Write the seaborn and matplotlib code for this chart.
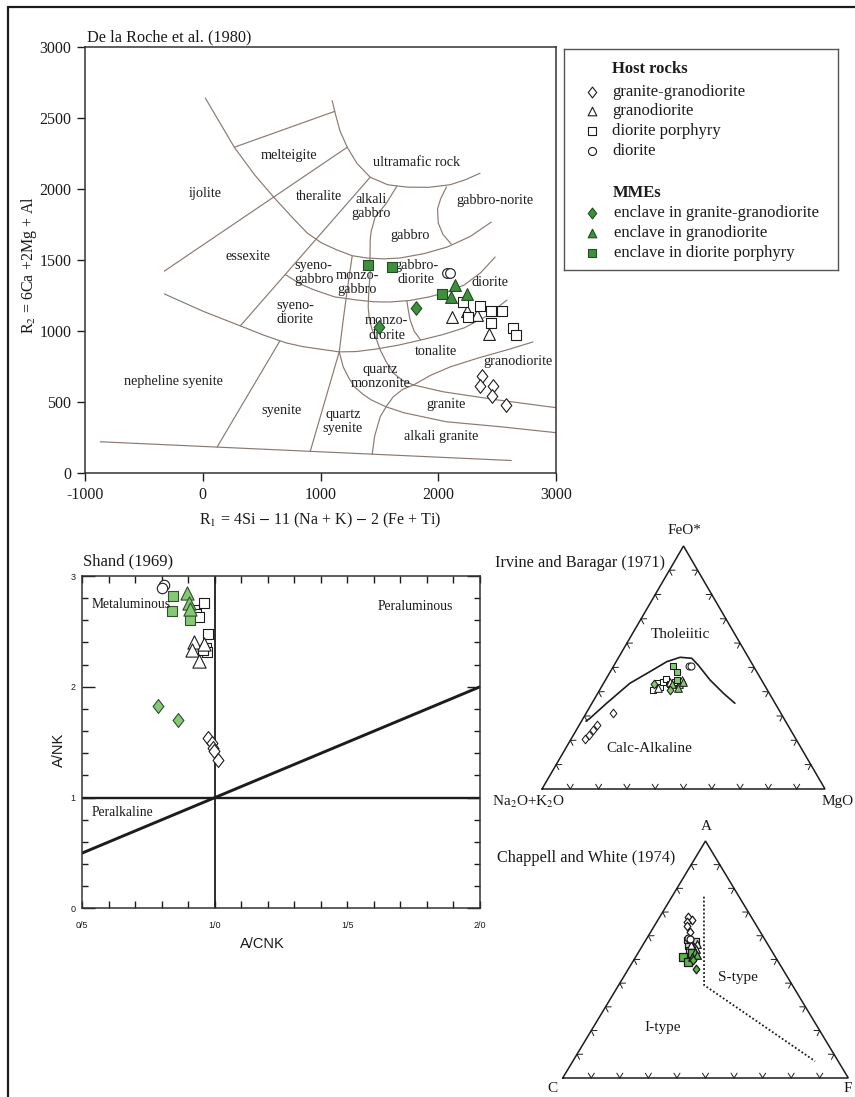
import numpy as np
import matplotlib
matplotlib.use("Agg")
import matplotlib.pyplot as plt
import seaborn as sns
from matplotlib.path import Path
from matplotlib.lines import Line2D
from matplotlib.ticker import FixedLocator, MultipleLocator

sns.set_theme(style="white")
plt.rcParams["font.family"] = ["Liberation Serif", "DejaVu Serif"]
plt.rcParams["mathtext.fontset"] = "stix"
plt.rcParams["axes.unicode_minus"] = False
SANS = ["Liberation Sans", "DejaVu Sans"]

# ---------------- R1-R2 diagram (De la Roche et al., 1980) ----------------
gg_r1 = [2370, 2355, 2463, 2455, 2576]
gg_r2 = [680, 610, 610, 540, 480]
gd_r1 = [2115, 2245, 2327, 2430]
gd_r2 = [1100, 1140, 1110, 982]
dp_r1 = [2212, 2356, 2450, 2540, 2452, 2638, 2664, 2254]
dp_r2 = [1204, 1176, 1144, 1144, 1055, 1020, 970, 1100]
di_r1 = [2072, 2098]
di_r2 = [1410, 1410]
mgg_r1 = [1815, 1500]
mgg_r2 = [1160, 1025]
mgd_r1 = [2145, 2107, 2248]
mgd_r2 = [1325, 1242, 1264]
mdp_r1 = [1405, 1603, 2030]
mdp_r2 = [1462, 1451, 1260]

# field boundaries of the R1-R2 classification net (R1, R2)
net_base = [(-870, 220), (2620, 88)]
net_arc_a = [(22, 2640), (150, 2460), (268, 2294), (440, 2100), (616, 1930), (760, 1800),
             (887, 1690), (1010, 1620), (1142, 1570), (1270, 1530), (1396, 1514),
             (1540, 1508), (1676, 1514), (1880, 1545), (2075, 1591), (2270, 1665), (2450, 1767)]
net_arc_b = [(1099, 2622), (1125, 2533), (1165, 2410), (1227, 2294), (1310, 2180), (1422, 2083),
             (1570, 2030), (1736, 2013), (1920, 2012), (2101, 2030), (2230, 2065), (2355, 2111)]
net_melteigite = [(268, 2294), (1121, 2547)]
net_ijolite = [(-326, 1422), (1227, 2294)]
net_essexite = [(319, 1036), (1422, 2083)]
net_norite = [(2070, 2015), (2020, 1930), (1994, 1860), (2000, 1760), (2040, 1680), (2110, 1612)]
net_gabbro = [(1650, 2022), (1560, 1900), (1464, 1802), (1430, 1700), (1422, 1640), (1420, 1500),
              (1422, 1408), (1410, 1280), (1405, 1169), (1415, 1080), (1439, 1008), (1480, 930),
              (1507, 867), (1560, 780), (1617, 705), (1700, 650), (1790, 620)]
net_mid = [(700, 1398), (830, 1330), (947, 1289), (1120, 1240), (1312, 1218), (1450, 1206),
           (1583, 1204), (1760, 1215), (1923, 1240), (2080, 1275), (2220, 1324), (2360, 1410),
           (2483, 1521)]
net_low = [(-326, 1261), (0, 1140), (319, 1036), (520, 970), (709, 916), (850, 890), (981, 874),
           (1159, 853), (1300, 855), (1464, 872), (1660, 900), (1855, 937), (2040, 975),
           (2220, 1022), (2400, 1100), (2584, 1218)]
net_diorite = [(1733, 1214), (1745, 1150), (1761, 1078), (1795, 1000), (1850, 937)]
net_nesy = [(122, 183), (655, 930)]
net_qsy = [(913, 153), (1159, 853), (1193, 1078), (1227, 1289), (1269, 1528)]
net_tonalite = [(1439, 133), (1460, 260), (1507, 396), (1560, 470), (1617, 536), (1700, 590),
                (1790, 620), (1940, 690), (2101, 747), (2340, 810), (2584, 867), (2805, 923)]
net_granite_top = [(1790, 620), (2041, 572), (2500, 515), (3000, 460)]
net_granite_bot = [(1159, 853), (1193, 747), (1240, 670), (1287, 607), (1360, 555), (1430, 515),
                   (1560, 465), (1710, 424), (2067, 361), (2525, 326), (3000, 284)]
net_lines = [net_base, net_arc_a, net_arc_b, net_melteigite, net_ijolite, net_essexite,
             net_norite, net_gabbro, net_mid, net_low, net_diorite, net_nesy, net_qsy,
             net_tonalite, net_granite_top, net_granite_bot]

field_names = ["melteigite", "ultramafic rock", "ijolite", "theralite", "alkali\ngabbro",
               "gabbro-norite", "gabbro", "essexite", "syeno-\ngabbro", "monzo-\ngabbro",
               "gabbro-\ndiorite", "diorite", "syeno-\ndiorite", "monzo-\ndiorite", "tonalite",
               "granodiorite", "nepheline syenite", "quartz\nmonzonite", "granite", "syenite",
               "quartz\nsyenite", "alkali granite"]
field_r1 = [736, 1812, 18, 988, 1430, 2479, 1761, 382, 942, 1312, 1812, 2439, 785, 1563, 1985,
            2676, -248, 1509, 2063, 667, 1191, 2024]
field_r2 = [2234, 2187, 1969, 1945, 1875, 1922, 1676, 1523, 1411, 1341, 1411, 1341, 1130, 1020,
            855, 785, 645, 680, 480, 441, 361, 258]

# ---------------- Shand (1969) ----------------
sh_gg_x = [0.975, 0.99, 0.993, 0.995, 1.01]
sh_gg_y = [1.54, 1.49, 1.45, 1.42, 1.34]
sh_di_x = [0.81, 0.80]
sh_di_y = [2.92, 2.89]
sh_gd_x = [0.922, 0.912, 0.94, 0.958]
sh_gd_y = [2.40, 2.33, 2.23, 2.39]
sh_dp_x = [0.96, 0.92, 0.93, 0.94, 0.975, 0.966, 0.97, 0.955]
sh_dp_y = [2.76, 2.69, 2.66, 2.63, 2.48, 2.35, 2.31, 2.33]
sh_mgg_x = [0.784, 0.862]
sh_mgg_y = [1.83, 1.70]
sh_mgd_x = [0.894, 0.904, 0.905]
sh_mgd_y = [2.85, 2.76, 2.70]
sh_mdp_x = [0.843, 0.84, 0.905]
sh_mdp_y = [2.82, 2.68, 2.60]
shand_xticks = [0.5, 1.0, 1.5, 2.0]
shand_xlabels = ["0/5", "1/0", "1/5", "2/0"]

# ---------------- AFM (Irvine and Baragar, 1971): Na2O+K2O, FeO*, MgO (%) ----------------
afm_gg = dict(A=[59.1, 74.6, 72.2, 69.7, 67.4], F=[31.4, 20.5, 22.2, 24.3, 26.3], M=[9.5, 5.0, 5.6, 6.0, 6.3])
afm_gd = dict(A=[38.2, 32.7, 29.9, 28.2], F=[41.4, 44.2, 43.2, 44.9], M=[20.4, 23.1, 26.9, 26.9])
afm_dp = dict(A=[40.3, 37.7, 37.3, 35.0, 33.6, 33.2, 30.9, 29.5],
              F=[40.7, 43.5, 42.1, 44.2, 45.1, 43.2, 44.2, 43.5],
              M=[19.0, 18.8, 20.6, 20.8, 21.3, 23.6, 24.9, 27.0])
afm_di = dict(A=[22.6, 22.0], F=[50.7, 50.6], M=[26.7, 27.4])
afm_mgg = dict(A=[38.8, 34.4], F=[43.2, 40.7], M=[18.0, 24.9])
afm_mgd = dict(A=[28.2, 32.5, 31.1], F=[44.0, 43.2, 41.6], M=[27.8, 24.3, 27.3])
afm_mdp = dict(A=[28.3, 28.1, 29.8], F=[50.6, 48.2, 44.9], M=[21.1, 23.7, 25.3])
afm_boundary = dict(A=[70.5, 68.5, 59.5, 47.2, 37.7, 29.7, 24.1, 20.2, 19.3, 18.2, 16.2, 14.2],
                    F=[27.9, 29.1, 35.3, 43.5, 48.3, 52.4, 54.2, 53.8, 51.0, 44.9, 39.4, 35.3],
                    M=[1.6, 2.4, 5.2, 9.3, 14.0, 17.9, 21.7, 26.0, 29.7, 36.9, 44.4, 50.5])

# ---------------- ACF (Chappell and White, 1974): A, C, F (%) ----------------
acf_gg = dict(A=[68.0, 66.6, 65.9, 61.7, 64.1], C=[22.0, 21.5, 23.65, 24.6, 24.45], F=[10.0, 11.9, 10.45, 13.7, 11.45])
acf_dp = dict(A=[58.2, 57.3, 56.5, 55.6, 54.8, 57.8, 53.95, 53.5],
              C=[27.5, 26.8, 25.8, 28.3, 27.3, 24.4, 28.85, 27.6],
              F=[14.3, 15.9, 17.7, 16.1, 17.9, 17.8, 17.2, 18.9])
acf_gd = dict(A=[55.2, 56.5, 56.1, 54.35], C=[26.4, 24.7, 27.0, 26.15], F=[18.4, 18.8, 16.9, 19.5])
acf_di = dict(A=[59.0, 58.6], C=[26.6, 26.1], F=[14.4, 15.3])
acf_mdp = dict(A=[51.1, 52.6, 49.0], C=[32.2, 28.5, 31.5], F=[16.7, 18.9, 19.5])
acf_mgd = dict(A=[53.1, 51.0, 51.8], C=[27.1, 29.2, 27.1], F=[19.8, 19.8, 21.1])
acf_mgg = dict(A=[46.2, 49.7], C=[30.2, 29.4], F=[23.6, 20.9])
acf_is_line = dict(A=[76.5, 39.2, 7.1], C=[12.3, 30.9, 8.1], F=[11.2, 29.9, 84.8])

# ---------------- figure helpers ----------------
W, H = 855, 1097
fig = plt.figure(figsize=(W / 100, H / 100), dpi=100)
fig.patch.set_facecolor("white")


def box(l, t, r, b):
    return [l / W, 1 - b / H, (r - l) / W, (b - t) / H]


def ftext(x, y, s, **kw):
    kw.setdefault("ha", "center")
    kw.setdefault("va", "center")
    kw.setdefault("color", "#1a1a1a")
    return fig.text(x / W, 1 - y / H, s, **kw)


DIAMOND = Path([(0, 1), (0.78, 0), (0, -1), (-0.78, 0), (0, 1)], closed=True)
INK = "#1c1c1c"
NET = "#8a7a72"
G_DARK, G_DARK_E = "#3f8f3f", "#1f4f1f"
G_LIGHT = "#86c876"
G_MID = "#5cb34f"


def pts(ax, x, y, marker, size, face, edge=INK, lw=0.8, z=4):
    sns.scatterplot(x=list(x), y=list(y), marker=marker, s=size ** 2, color=face,
                    edgecolor=edge, linewidth=lw, ax=ax, legend=False, zorder=z, clip_on=False)


S3 = np.sqrt(3) / 2


def afm_xy(d):
    A, F, M = (np.asarray(d[k], float) for k in ("A", "F", "M"))
    t = A + F + M
    return (M + F / 2) / t, F / t * S3


def acf_xy(d):
    A, C, F = (np.asarray(d[k], float) for k in ("A", "C", "F"))
    t = A + C + F
    return (F + A / 2) / t, A / t * S3


def ternary_frame(ax, aspect):
    V = np.array([[0, 0], [1, 0], [0.5, S3]])
    ax.plot([0, 1, 0.5, 0], [0, 0, S3, 0], color=INK, lw=1.1, solid_joinstyle="miter",
            clip_on=False, zorder=2)
    c = V.mean(axis=0)
    L = 0.02
    sq = np.array([1.0, aspect])  # compensate unequal x/y pixel scale for tick shapes
    for i in range(3):
        a, b = V[i] * sq, V[(i + 1) % 3] * sq
        d = (b - a) / np.linalg.norm(b - a)
        n = np.array([-d[1], d[0]])
        if np.dot(c * sq - a, n) < 0:
            n = -n
        for t in np.arange(1, 10) / 10:
            p = a + t * (b - a)
            for sgn in (-1, 1):
                ang = np.deg2rad(32) * sgn
                rot = np.array([[np.cos(ang), -np.sin(ang)], [np.sin(ang), np.cos(ang)]])
                q = p + L * rot @ n
                ax.plot([p[0], q[0]], [p[1] / aspect, q[1] / aspect], color=INK, lw=0.7,
                        clip_on=False, zorder=2)
    ax.set_xlim(0, 1)
    ax.set_ylim(0, S3)
    ax.axis("off")


# outer frame (left and top edges)
for xs, ys in [([8, 8], [7, H + 5]), ([8, W + 5], [7, 7])]:
    fig.add_artist(Line2D([x / W for x in xs], [1 - y / H for y in ys], color=INK, lw=1.6,
                          transform=fig.transFigure))

# ---------------- panel 1: R1-R2 ----------------
ax = fig.add_axes(box(85, 47, 556, 473))
for seg in net_lines:
    xs, ys = zip(*seg)
    ax.plot(xs, ys, color=NET, lw=0.85, zorder=1)
for name, x, y in zip(field_names, field_r1, field_r2):
    ax.text(x, y, name, ha="center", va="center", fontsize=10.3, color="#1e1e1e",
            linespacing=1.15, zorder=3)

pts(ax, gg_r1, gg_r2, DIAMOND, 9.8, "white")
pts(ax, gd_r1, gd_r2, "^", 8.5, "white")
pts(ax, dp_r1, dp_r2, "s", 6.6, "white")
pts(ax, di_r1, di_r2, "o", 7.0, "white")
pts(ax, mgg_r1, mgg_r2, DIAMOND, 9.8, G_DARK, G_DARK_E)
pts(ax, mgd_r1, mgd_r2, "^", 8.5, G_DARK, G_DARK_E)
pts(ax, mdp_r1, mdp_r2, "s", 6.6, G_DARK, G_DARK_E)

ax.set_xlim(-1000, 3000)
ax.set_ylim(0, 3000)
ax.set_xticks([-1000, 0, 1000, 2000, 3000])
ax.set_yticks(range(0, 3001, 500))
ax.tick_params(direction="out", length=5.8, width=1.0, labelsize=11.5, pad=4,
               colors=INK, bottom=True, left=True)
ax.set_xlabel("")
ax.set_ylabel("")
for s in ax.spines.values():
    s.set_color("#333333")
    s.set_linewidth(1.1)
ftext(87, 37, "De la Roche et al. (1980)", ha="left", fontsize=11.7)
ftext(320, 520, r"R$_1$ = 4Si $-$ 11 (Na + K) $-$ 2 (Fe + Ti)", fontsize=11.5)
ftext(29, 265, r"R$_2$ = 6Ca +2Mg + Al", fontsize=11.5, rotation=90)

# ---------------- legend ----------------
axl = fig.add_axes(box(564, 49, 838, 270))
axl.set_xlim(564, 838)
axl.set_ylim(270, 49)
axl.set_xticks([])
axl.set_yticks([])
axl.set_facecolor("white")
for s in axl.spines.values():
    s.set_color("#555555")
    s.set_linewidth(1.0)
axl.text(612, 69, "Host rocks", fontsize=12, fontweight="bold", va="center", color=INK)
axl.text(613, 193, "MMEs", fontsize=12, fontweight="bold", va="center", color=INK)
leg_rows = [
    (92, DIAMOND, 7.8, "white", INK, "granite-granodiorite", 612),
    (111, "^", 6.2, "white", INK, "granodiorite", 612),
    (131, "s", 5.4, "white", INK, "diorite porphyry", 612),
    (151, "o", 5.8, "white", INK, "diorite", 612),
    (213, DIAMOND, 7.8, G_DARK, G_DARK_E, "enclave in granite-granodiorite", 614),
    (233, "^", 6.2, G_DARK, G_DARK_E, "enclave in granodiorite", 614),
    (253, "s", 5.4, G_DARK, G_DARK_E, "enclave in diorite porphyry", 614),
]
for y, m, sz, fc, ec, lab, tx in leg_rows:
    axl.scatter([592], [y], marker=m, s=sz ** 2, facecolor=fc, edgecolor=ec, linewidth=0.8)
    axl.text(tx, y, lab, fontsize=12, va="center", color=INK)

# ---------------- panel 2: Shand ----------------
ax2 = fig.add_axes(box(82.3, 576, 480, 908.4))
ax2.plot([0.5, 2.0], [1, 1], color=INK, lw=1.7, zorder=2)
ax2.plot([1, 1], [0, 3], color=INK, lw=1.3, zorder=2)
ax2.plot([0.5, 2.0], [0.5, 2.0], color=INK, lw=2.1, zorder=2)
pts(ax2, sh_di_x, sh_di_y, "o", 7.5, "white")
pts(ax2, sh_dp_x, sh_dp_y, "s", 7.6, "white")
pts(ax2, sh_gd_x, sh_gd_y, "^", 9.5, "white")
pts(ax2, sh_gg_x, sh_gg_y, DIAMOND, 10.0, "white")
pts(ax2, sh_mdp_x, sh_mdp_y, "s", 7.6, G_LIGHT, "#2f4f2f")
pts(ax2, sh_mgd_x, sh_mgd_y, "^", 9.5, G_LIGHT, "#2f4f2f")
pts(ax2, sh_mgg_x, sh_mgg_y, DIAMOND, 10.0, G_LIGHT, "#2f4f2f")
ax2.set_xlim(0.5, 2.0)
ax2.set_ylim(0, 3)
ax2.xaxis.set_major_locator(FixedLocator(shand_xticks))
ax2.xaxis.set_minor_locator(MultipleLocator(0.1))
ax2.yaxis.set_major_locator(FixedLocator([0, 1, 2, 3]))
ax2.yaxis.set_minor_locator(MultipleLocator(0.2))
ax2.set_xticklabels(shand_xlabels, fontfamily=SANS, fontsize=6.5)
ax2.set_yticklabels(["0", "1", "2", "3"], fontfamily=SANS, fontsize=6.5)
ax2.tick_params(which="both", direction="in", top=True, right=True, bottom=True, left=True,
                width=1.0, colors=INK)
ax2.tick_params(axis="y", which="major", length=9.5, pad=5)
ax2.tick_params(axis="y", which="minor", length=4.5)
ax2.tick_params(axis="x", which="both", length=5, pad=9)
ax2.set_xlabel("")
ax2.set_ylabel("")
for s in ax2.spines.values():
    s.set_color("#333333")
    s.set_linewidth(1.1)
ftext(83, 561, "Shand (1969)", ha="left", fontsize=12)
ftext(92, 605, "Metaluminous", ha="left", fontsize=9.8)
ftext(378, 607, "Peraluminous", ha="left", fontsize=9.8)
ftext(92, 813, "Peralkaline", ha="left", fontsize=9.8)
ftext(59, 750, "A/NK", fontsize=10.5, rotation=90, fontfamily=SANS)
ftext(262, 944, "A/CNK", fontsize=10.5, fontfamily=SANS)

# ---------------- panel 3: AFM ----------------
afm_box = (542, 546, 825, 789)
ax3 = fig.add_axes(box(*afm_box))
ternary_frame(ax3, (afm_box[3] - afm_box[1]) / S3 / (afm_box[2] - afm_box[0]))
bx, by = afm_xy(afm_boundary)
ax3.plot(bx, by, color=INK, lw=1.2, zorder=2)
for d, m, sz, fc, ec in [(afm_gg, DIAMOND, 6.2, "white", INK), (afm_dp, "s", 5.0, "white", INK),
                         (afm_gd, "^", 5.5, "white", INK), (afm_di, "o", 5.0, "white", INK),
                         (afm_mdp, "s", 5.0, G_LIGHT, INK), (afm_mgd, "^", 5.5, G_LIGHT, INK),
                         (afm_mgg, DIAMOND, 6.2, G_LIGHT, INK)]:
    x, y = afm_xy(d)
    pts(ax3, x, y, m, sz, fc, ec, lw=0.75)
ax3.set_xlim(0, 1)
ax3.set_ylim(0, S3)
ax3.axis("off")
ftext(495, 563, "Irvine and Baragar (1971)", ha="left", fontsize=11.7)
ftext(684, 531, "FeO*", fontsize=11)
ftext(529, 802, r"Na$_2$O+K$_2$O", fontsize=11)
ftext(838, 802, "MgO", fontsize=11)
ftext(680, 634, "Tholeiitic", fontsize=11)
ftext(649, 748, "Calc-Alkaline", fontsize=11)

# ---------------- panel 4: ACF ----------------
acf_box = (562.7, 841, 848.3, 1078)
ax4 = fig.add_axes(box(*acf_box))
ternary_frame(ax4, (acf_box[3] - acf_box[1]) / S3 / (acf_box[2] - acf_box[0]))
lx, ly = acf_xy(acf_is_line)
ax4.plot(lx, ly, color=INK, lw=1.3, ls=(0, (1, 1.2)), zorder=2)
for d, m, sz, fc, ec in [(acf_gg, DIAMOND, 6.2, "white", INK), (acf_dp, "s", 5.0, "#d8d8d8", INK),
                         (acf_gd, "^", 5.5, "white", INK), (acf_di, "o", 5.0, "white", INK),
                         (acf_mdp, "s", 5.5, G_MID, INK), (acf_mgd, "^", 5.5, G_MID, INK),
                         (acf_mgg, DIAMOND, 6.2, G_MID, INK)]:
    x, y = acf_xy(d)
    pts(ax4, x, y, m, sz, fc, ec, lw=0.9)
ax4.set_xlim(0, 1)
ax4.set_ylim(0, S3)
ax4.axis("off")
ftext(497, 858, "Chappell and White (1974)", ha="left", fontsize=11.7)
ftext(706, 827, "A", fontsize=11)
ftext(552, 1088, "C", fontsize=11)
ftext(848, 1088, "F", fontsize=11)
ftext(738, 977, "S-type", fontsize=11)
ftext(663, 1027, "I-type", fontsize=11)

fig.savefig("out.png", dpi=100, facecolor="white")
